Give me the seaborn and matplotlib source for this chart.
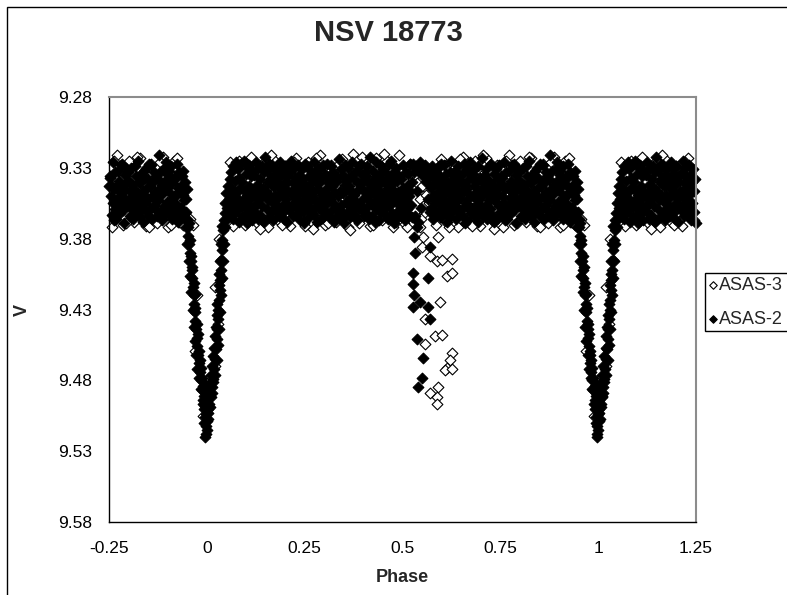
import matplotlib
matplotlib.use("Agg")
import matplotlib.pyplot as plt
from matplotlib.patches import Rectangle
import pandas as pd
import seaborn as sns

# ASAS-2 (filled diamonds): phases folded into 0..1, V magnitudes
asas2_band_phase = [
    0.046, 0.047, 0.049, 0.050, 0.052, 0.053, 0.055, 0.056, 0.058, 0.059,
    0.061, 0.063, 0.064, 0.066, 0.067, 0.069, 0.070, 0.072, 0.073, 0.075,
    0.076, 0.077, 0.079, 0.080, 0.082, 0.083, 0.085, 0.086, 0.088, 0.089,
    0.091, 0.093, 0.094, 0.096, 0.097, 0.099, 0.100, 0.102, 0.103, 0.105,
    0.106, 0.107, 0.109, 0.110, 0.112, 0.113, 0.115, 0.116, 0.118, 0.119,
    0.121, 0.123, 0.124, 0.126, 0.127, 0.129, 0.130, 0.132, 0.133, 0.135,
    0.136, 0.137, 0.139, 0.140, 0.142, 0.143, 0.145, 0.146, 0.148, 0.149,
    0.151, 0.153, 0.154, 0.156, 0.157, 0.159, 0.160, 0.162, 0.163, 0.165,
    0.166, 0.167, 0.169, 0.170, 0.172, 0.173, 0.175, 0.176, 0.178, 0.179,
    0.181, 0.183, 0.184, 0.186, 0.187, 0.189, 0.190, 0.192, 0.193, 0.195,
    0.196, 0.197, 0.199, 0.200, 0.202, 0.203, 0.205, 0.206, 0.208, 0.209,
    0.211, 0.213, 0.214, 0.216, 0.217, 0.219, 0.220, 0.222, 0.223, 0.225,
    0.226, 0.227, 0.229, 0.230, 0.232, 0.233, 0.235, 0.236, 0.238, 0.239,
    0.241, 0.243, 0.244, 0.246, 0.247, 0.249, 0.250, 0.252, 0.253, 0.255,
    0.256, 0.257, 0.259, 0.260, 0.262, 0.263, 0.265, 0.266, 0.268, 0.269,
    0.271, 0.273, 0.274, 0.276, 0.277, 0.279, 0.280, 0.282, 0.283, 0.285,
    0.286, 0.287, 0.289, 0.290, 0.292, 0.293, 0.295, 0.296, 0.298, 0.299,
    0.301, 0.303, 0.304, 0.306, 0.307, 0.309, 0.310, 0.312, 0.313, 0.315,
    0.316, 0.317, 0.319, 0.320, 0.322, 0.323, 0.325, 0.326, 0.328, 0.329,
    0.331, 0.333, 0.334, 0.336, 0.337, 0.339, 0.340, 0.342, 0.343, 0.345,
    0.346, 0.347, 0.349, 0.350, 0.352, 0.353, 0.355, 0.356, 0.358, 0.359,
    0.361, 0.363, 0.364, 0.366, 0.367, 0.369, 0.370, 0.372, 0.373, 0.375,
    0.376, 0.377, 0.379, 0.380, 0.382, 0.383, 0.385, 0.386, 0.388, 0.389,
    0.391, 0.393, 0.394, 0.396, 0.397, 0.399, 0.400, 0.402, 0.403, 0.405,
    0.406, 0.407, 0.409, 0.410, 0.412, 0.413, 0.415, 0.416, 0.418, 0.419,
    0.421, 0.423, 0.424, 0.426, 0.427, 0.429, 0.430, 0.432, 0.433, 0.435,
    0.436, 0.437, 0.439, 0.440, 0.442, 0.443, 0.445, 0.446, 0.448, 0.449,
    0.451, 0.453, 0.454, 0.456, 0.457, 0.459, 0.460, 0.462, 0.463, 0.465,
    0.466, 0.467, 0.469, 0.470, 0.472, 0.473, 0.475, 0.476, 0.478, 0.479,
    0.481, 0.483, 0.484, 0.486, 0.487, 0.489, 0.490, 0.492, 0.493, 0.495,
    0.496, 0.497, 0.499, 0.500, 0.502, 0.503, 0.505, 0.506, 0.508, 0.509,
    0.511, 0.513, 0.514, 0.516, 0.517, 0.519, 0.520, 0.522, 0.523, 0.525,
    0.526, 0.529, 0.532, 0.535, 0.538, 0.540,
    0.542, 0.545, 0.548, 0.551, 0.554,
    0.557, 0.560, 0.563, 0.566, 0.569, 0.571,
    0.573, 0.574, 0.576, 0.577, 0.579, 0.580, 0.582, 0.583, 0.585, 0.586,
    0.588, 0.590, 0.591, 0.593, 0.594, 0.596, 0.597, 0.599, 0.600, 0.602,
    0.603, 0.604, 0.606, 0.607, 0.609, 0.610, 0.612, 0.613, 0.615, 0.616,
    0.618, 0.620, 0.621, 0.623, 0.624, 0.626, 0.627, 0.629, 0.630, 0.632,
    0.633, 0.634, 0.636, 0.637, 0.639, 0.640, 0.642, 0.643, 0.645, 0.646,
    0.648, 0.650, 0.651, 0.653, 0.654, 0.656, 0.657, 0.659, 0.660, 0.662,
    0.663, 0.664, 0.666, 0.667, 0.669, 0.670, 0.672, 0.673, 0.675, 0.676,
    0.678, 0.680, 0.681, 0.683, 0.684, 0.686, 0.687, 0.689, 0.690, 0.692,
    0.693, 0.694, 0.696, 0.697, 0.699, 0.700, 0.702, 0.703, 0.705, 0.706,
    0.708, 0.710, 0.711, 0.713, 0.714, 0.716, 0.717, 0.719, 0.720, 0.722,
    0.723, 0.724, 0.726, 0.727, 0.729, 0.730, 0.732, 0.733, 0.735, 0.736,
    0.738, 0.740, 0.741, 0.743, 0.744, 0.746, 0.747, 0.749, 0.750, 0.752,
    0.753, 0.754, 0.756, 0.757, 0.759, 0.760, 0.762, 0.763, 0.765, 0.766,
    0.768, 0.770, 0.771, 0.773, 0.774, 0.776, 0.777, 0.779, 0.780, 0.782,
    0.783, 0.784, 0.786, 0.787, 0.789, 0.790, 0.792, 0.793, 0.795, 0.796,
    0.798, 0.800, 0.801, 0.803, 0.804, 0.806, 0.807, 0.809, 0.810, 0.812,
    0.813, 0.814, 0.816, 0.817, 0.819, 0.820, 0.822, 0.823, 0.825, 0.826,
    0.828, 0.830, 0.831, 0.833, 0.834, 0.836, 0.837, 0.839, 0.840, 0.842,
    0.843, 0.844, 0.846, 0.847, 0.849, 0.850, 0.852, 0.853, 0.855, 0.856,
    0.858, 0.860, 0.861, 0.863, 0.864, 0.866, 0.867, 0.869, 0.870, 0.872,
    0.873, 0.874, 0.876, 0.877, 0.879, 0.880, 0.882, 0.883, 0.885, 0.886,
    0.888, 0.890, 0.891, 0.893, 0.894, 0.896, 0.897, 0.899, 0.900, 0.902,
    0.903, 0.904, 0.906, 0.907, 0.909, 0.910, 0.912, 0.913, 0.915, 0.916,
    0.918, 0.920, 0.921, 0.923, 0.924, 0.926, 0.927, 0.929, 0.930, 0.932,
    0.933, 0.934, 0.936, 0.937, 0.939, 0.940, 0.942, 0.943, 0.945, 0.946,
    0.947, 0.948, 0.949, 0.950,
]
asas2_band_mag = [
    9.362, 9.355, 9.367, 9.348, 9.358, 9.343, 9.364, 9.352, 9.338, 9.360,
    9.333, 9.356, 9.345, 9.366, 9.329, 9.350, 9.362, 9.339, 9.354, 9.326,
    9.347, 9.360, 9.331, 9.352, 9.368, 9.337, 9.344, 9.357, 9.327, 9.364,
    9.340, 9.353, 9.325, 9.365, 9.346, 9.334, 9.359, 9.349, 9.369, 9.330,
    9.356, 9.328, 9.343, 9.362, 9.336, 9.351, 9.367, 9.332, 9.347, 9.358,
    9.335, 9.349, 9.361, 9.326, 9.355, 9.342, 9.366, 9.330, 9.352, 9.345,
    9.363, 9.338, 9.350, 9.329, 9.357, 9.344, 9.333, 9.368, 9.348, 9.322,
    9.346, 9.359, 9.332, 9.353, 9.340, 9.365, 9.327, 9.350, 9.337, 9.361,
    9.328, 9.354, 9.343, 9.367, 9.335, 9.349, 9.360, 9.331, 9.356, 9.341,
    9.351, 9.337, 9.364, 9.326, 9.345, 9.358, 9.334, 9.362, 9.348, 9.330,
    9.342, 9.366, 9.329, 9.355, 9.339, 9.352, 9.368, 9.336, 9.346, 9.358,
    9.360, 9.333, 9.347, 9.325, 9.357, 9.341, 9.364, 9.350, 9.330, 9.354,
    9.337, 9.352, 9.363, 9.344, 9.328, 9.359, 9.335, 9.348, 9.367, 9.340,
    9.355, 9.331, 9.346, 9.361, 9.338, 9.369, 9.351, 9.327, 9.343, 9.357,
    9.329, 9.349, 9.358, 9.336, 9.365, 9.344, 9.332, 9.353, 9.340, 9.362,
    9.347, 9.363, 9.326, 9.352, 9.339, 9.357, 9.334, 9.368, 9.345, 9.331,
    9.358, 9.341, 9.354, 9.330, 9.366, 9.337, 9.349, 9.361, 9.328, 9.351,
    9.334, 9.356, 9.345, 9.362, 9.327, 9.350, 9.340, 9.365, 9.353, 9.338,
    9.352, 9.329, 9.360, 9.343, 9.355, 9.333, 9.368, 9.347, 9.336, 9.358,
    9.340, 9.364, 9.337, 9.350, 9.324, 9.359, 9.346, 9.331, 9.356, 9.366,
    9.361, 9.335, 9.348, 9.369, 9.342, 9.328, 9.354, 9.339, 9.362, 9.345,
    9.330, 9.357, 9.343, 9.351, 9.365, 9.336, 9.360, 9.326, 9.348, 9.353,
    9.349, 9.338, 9.363, 9.332, 9.355, 9.346, 9.367, 9.341, 9.358, 9.329,
    9.356, 9.327, 9.344, 9.360, 9.335, 9.352, 9.339, 9.364, 9.347, 9.333,
    9.336, 9.362, 9.350, 9.329, 9.357, 9.341, 9.366, 9.345, 9.322, 9.354,
    9.364, 9.345, 9.332, 9.356, 9.338, 9.368, 9.349, 9.326, 9.359, 9.342,
    9.343, 9.353, 9.367, 9.335, 9.361, 9.328, 9.347, 9.357, 9.339, 9.350,
    9.331, 9.359, 9.340, 9.363, 9.348, 9.354, 9.334, 9.366, 9.344, 9.327,
    9.357, 9.337, 9.351, 9.325, 9.345, 9.362, 9.341, 9.353, 9.369, 9.333,
    9.348, 9.366, 9.330, 9.355, 9.339, 9.347, 9.360, 9.336, 9.351, 9.363,
    9.338, 9.352, 9.361, 9.344, 9.328, 9.357, 9.349, 9.367, 9.333, 9.355,
    9.359, 9.342, 9.334, 9.363, 9.350, 9.327, 9.346, 9.356, 9.340, 9.365,
    9.327, 9.333, 9.364, 9.329, 9.346, 9.368,
    9.331, 9.326, 9.358, 9.335, 9.330,
    9.328, 9.340, 9.332, 9.352, 9.336, 9.361,
    9.344, 9.358, 9.329, 9.366, 9.350, 9.337, 9.355, 9.341, 9.362, 9.333,
    9.353, 9.330, 9.347, 9.360, 9.336, 9.365, 9.343, 9.327, 9.356, 9.349,
    9.339, 9.362, 9.352, 9.328, 9.345, 9.358, 9.334, 9.368, 9.341, 9.355,
    9.365, 9.347, 9.333, 9.357, 9.325, 9.350, 9.361, 9.338, 9.354, 9.343,
    9.332, 9.356, 9.344, 9.366, 9.339, 9.353, 9.329, 9.360, 9.348, 9.336,
    9.351, 9.340, 9.363, 9.334, 9.358, 9.327, 9.346, 9.369, 9.342, 9.355,
    9.345, 9.367, 9.331, 9.352, 9.338, 9.359, 9.349, 9.326, 9.362, 9.335,
    9.358, 9.334, 9.350, 9.343, 9.365, 9.330, 9.356, 9.340, 9.347, 9.368,
    9.329, 9.353, 9.361, 9.337, 9.346, 9.357, 9.323, 9.350, 9.364, 9.341,
    9.362, 9.344, 9.335, 9.356, 9.331, 9.366, 9.348, 9.339, 9.353, 9.358,
    9.340, 9.359, 9.347, 9.327, 9.363, 9.342, 9.352, 9.334, 9.368, 9.345,
    9.354, 9.331, 9.366, 9.349, 9.338, 9.357, 9.328, 9.361, 9.343, 9.336,
    9.337, 9.350, 9.342, 9.363, 9.326, 9.355, 9.345, 9.367, 9.333, 9.359,
    9.366, 9.343, 9.357, 9.332, 9.351, 9.339, 9.362, 9.347, 9.328, 9.354,
    9.348, 9.327, 9.360, 9.344, 9.369, 9.335, 9.352, 9.341, 9.357, 9.331,
    9.333, 9.355, 9.339, 9.364, 9.346, 9.358, 9.330, 9.350, 9.342, 9.366,
    9.359, 9.345, 9.329, 9.353, 9.336, 9.362, 9.348, 9.325, 9.356, 9.340,
    9.341, 9.364, 9.351, 9.334, 9.358, 9.346, 9.368, 9.332, 9.349, 9.337,
    9.355, 9.330, 9.344, 9.361, 9.338, 9.352, 9.327, 9.365, 9.343, 9.359,
    9.328, 9.350, 9.366, 9.340, 9.356, 9.333, 9.347, 9.360, 9.336, 9.353,
    9.364, 9.338, 9.353, 9.321, 9.345, 9.361, 9.332, 9.349, 9.367, 9.342,
    9.346, 9.357, 9.331, 9.363, 9.339, 9.326, 9.354, 9.344, 9.360, 9.335,
    9.332, 9.362, 9.348, 9.355, 9.329, 9.366, 9.341, 9.351, 9.337, 9.358,
    9.350, 9.337, 9.363, 9.327, 9.356, 9.344, 9.368, 9.333, 9.347, 9.360,
    9.343, 9.358, 9.336, 9.365, 9.349, 9.332, 9.353, 9.362, 9.340, 9.367,
    9.352, 9.361, 9.345, 9.366,
]
asas2_eclipse_phase = [
    0.948, 0.951, 0.953, 0.955, 0.957, 0.959, 0.961, 0.962, 0.964, 0.966,
    0.968, 0.969, 0.971, 0.973, 0.974, 0.976, 0.978, 0.980, 0.982, 0.985,
    0.988, 0.991, 0.993, 0.995, 0.997, 0.998,
    0.954, 0.957, 0.960, 0.963, 0.966, 0.969, 0.971, 0.974, 0.977, 0.979,
    0.982, 0.984, 0.988, 0.991, 0.994, 0.996, 0.999,
    0.946, 0.950, 0.954, 0.957, 0.960, 0.964, 0.967, 0.970, 0.973, 0.976,
    0.044, 0.042, 0.040, 0.039, 0.037, 0.036, 0.034, 0.033, 0.031, 0.029,
    0.028, 0.026, 0.025, 0.023, 0.021, 0.018, 0.015, 0.012, 0.009, 0.006,
    0.003, 0.001,
    0.039, 0.036, 0.034, 0.032, 0.030, 0.027, 0.025, 0.023, 0.021, 0.019,
    0.016, 0.013, 0.010, 0.007, 0.004, 0.001, 0.998, 0.995, 0.002,
    0.047, 0.044, 0.041, 0.039, 0.036, 0.033, 0.030, 0.028, 0.025, 0.021,
    0.985, 0.990, 0.013, 0.008, 0.994, 0.004, 0.016, 0.981, 0.000, 0.996,
    0.010,
]
asas2_eclipse_mag = [
    9.366, 9.372, 9.378, 9.384, 9.390, 9.396, 9.402, 9.408, 9.414, 9.420,
    9.426, 9.432, 9.438, 9.444, 9.450, 9.456, 9.462, 9.468, 9.474, 9.480,
    9.487, 9.494, 9.500, 9.506, 9.512, 9.518,
    9.369, 9.381, 9.392, 9.400, 9.411, 9.419, 9.429, 9.440, 9.447, 9.459,
    9.466, 9.471, 9.478, 9.484, 9.491, 9.498, 9.504,
    9.372, 9.384, 9.396, 9.406, 9.418, 9.430, 9.442, 9.452, 9.462, 9.472,
    9.367, 9.374, 9.381, 9.388, 9.395, 9.402, 9.409, 9.416, 9.423, 9.430,
    9.437, 9.444, 9.451, 9.458, 9.465, 9.472, 9.479, 9.485, 9.491, 9.497,
    9.503, 9.509,
    9.371, 9.384, 9.396, 9.405, 9.413, 9.426, 9.434, 9.442, 9.449, 9.457,
    9.463, 9.470, 9.476, 9.482, 9.488, 9.494, 9.489, 9.483, 9.500,
    9.372, 9.384, 9.396, 9.408, 9.420, 9.432, 9.444, 9.455, 9.466, 9.476,
    9.486, 9.497, 9.489, 9.499, 9.510, 9.507, 9.481, 9.478, 9.515, 9.520,
    9.492,
]
asas2_dip_phase = [0.532, 0.528, 0.528, 0.529, 0.528, 0.566, 0.566, 0.570,
                   0.536, 0.553, 0.549, 0.540, 0.570, 0.545, 0.530, 0.538]
asas2_dip_mag = [9.390, 9.404, 9.412, 9.420, 9.428, 9.408, 9.428, 9.437,
                 9.451, 9.464, 9.478, 9.485, 9.386, 9.425, 9.379, 9.372]

# ASAS-3 (open diamonds)
asas3_band_phase = [
    0.059, 0.068, 0.083, 0.097, 0.112, 0.128, 0.141, 0.157, 0.170, 0.186,
    0.199, 0.213, 0.229, 0.244, 0.258, 0.272, 0.288, 0.303, 0.317, 0.331,
    0.345, 0.360, 0.374, 0.389, 0.404, 0.418, 0.433, 0.447, 0.461, 0.476,
    0.490, 0.505, 0.519, 0.585, 0.598, 0.612, 0.626, 0.641, 0.655, 0.670,
    0.684, 0.699, 0.713, 0.728, 0.742, 0.757, 0.771, 0.786, 0.800, 0.815,
    0.829, 0.844, 0.858, 0.873, 0.887, 0.902, 0.916, 0.930, 0.940,
    0.076, 0.105, 0.135, 0.164, 0.193, 0.222, 0.251, 0.280, 0.310, 0.339,
    0.367, 0.396, 0.425, 0.454, 0.483, 0.512, 0.593, 0.620, 0.648, 0.677,
    0.706, 0.735, 0.764, 0.793, 0.822, 0.851, 0.880, 0.909, 0.925,
    0.150, 0.350, 0.420, 0.470, 0.640, 0.700, 0.830, 0.910,
]
asas3_band_mag = [
    9.326, 9.371, 9.325, 9.370, 9.322, 9.369, 9.327, 9.372, 9.324, 9.368,
    9.329, 9.371, 9.323, 9.367, 9.326, 9.373, 9.321, 9.370, 9.328, 9.368,
    9.324, 9.372, 9.320, 9.369, 9.326, 9.371, 9.323, 9.367, 9.325, 9.372,
    9.321, 9.369, 9.327, 9.370, 9.324, 9.368, 9.327, 9.372, 9.322, 9.369,
    9.325, 9.371, 9.323, 9.367, 9.328, 9.372, 9.321, 9.370, 9.325, 9.368,
    9.323, 9.371, 9.327, 9.369, 9.322, 9.372, 9.325, 9.368, 9.370,
    9.366, 9.328, 9.373, 9.321, 9.370, 9.326, 9.371, 9.323, 9.369, 9.327,
    9.374, 9.322, 9.370, 9.320, 9.368, 9.372, 9.329, 9.372, 9.324, 9.371,
    9.321, 9.373, 9.325, 9.369, 9.322, 9.372, 9.326, 9.370, 9.323,
    9.345, 9.352, 9.338, 9.347, 9.350, 9.336, 9.356, 9.344,
]
asas3_dip_phase = [
    0.530, 0.536, 0.541, 0.545, 0.549, 0.552, 0.556, 0.560, 0.563, 0.567,
    0.534, 0.547,
    0.545, 0.553, 0.550, 0.591, 0.570, 0.588, 0.601, 0.627, 0.614, 0.627,
    0.596, 0.558, 0.583, 0.601, 0.558, 0.627, 0.621, 0.614, 0.609, 0.627,
    0.570, 0.591, 0.588, 0.588,
]
asas3_dip_mag = [
    9.336, 9.341, 9.347, 9.352, 9.343, 9.357, 9.362, 9.349, 9.339, 9.355,
    9.330, 9.366,
    9.372, 9.379, 9.386, 9.379, 9.392, 9.396, 9.395, 9.394, 9.406, 9.404,
    9.425, 9.437, 9.449, 9.448, 9.454, 9.461, 9.466, 9.471, 9.473, 9.472,
    9.489, 9.485, 9.492, 9.497,
]
asas3_eclipse_phase = [0.956, 0.964, 0.031, 0.021, 0.970, 0.020, 0.976,
                       0.028, 0.006, 0.990]
asas3_eclipse_mag = [9.366, 9.370, 9.380, 9.414, 9.459, 9.470, 9.420,
                     9.440, 9.478, 9.505]

x_ticks = [-0.25, 0, 0.25, 0.5, 0.75, 1, 1.25]
x_tick_labels = ["-0.25", "0", "0.25", "0.5", "0.75", "1", "1.25"]
y_ticks = [9.28, 9.33, 9.38, 9.43, 9.48, 9.53, 9.58]


def folded(phases, mags):
    """Phased light curve shown from -0.25 to 1.25 (repeat the wrapped ends)."""
    df = pd.DataFrame({"phase": phases, "mag": mags})
    before = df[df["phase"] >= 0.75].assign(phase=lambda d: d["phase"] - 1)
    after = df[df["phase"] < 0.25].assign(phase=lambda d: d["phase"] + 1)
    return pd.concat([df, before, after], ignore_index=True)


asas2 = folded(asas2_band_phase + asas2_eclipse_phase + asas2_dip_phase,
               asas2_band_mag + asas2_eclipse_mag + asas2_dip_mag)
asas3 = folded(asas3_band_phase + asas3_eclipse_phase + asas3_dip_phase,
               asas3_band_mag + asas3_eclipse_mag + asas3_dip_mag)

sns.set_style("white")
plt.rcParams["font.family"] = ["Liberation Sans", "DejaVu Sans"]

W, H = 787, 595
fig = plt.figure(figsize=(W / 100, H / 100), dpi=100)
ax = fig.add_axes([109 / W, (H - 522) / H, 587 / W, 425 / H])

marker_size = 30
sns.scatterplot(data=asas3, x="phase", y="mag", marker="D", s=marker_size,
                color="white", edgecolor="black", linewidth=0.8,
                label="ASAS-3", ax=ax, clip_on=False, legend=False)
sns.scatterplot(data=asas2, x="phase", y="mag", marker="D", s=marker_size,
                color="black", edgecolor="black", linewidth=0.8,
                label="ASAS-2", ax=ax, clip_on=False, legend=False)

ax.set_xlim(-0.25, 1.25)
ax.set_ylim(9.58, 9.28)
ax.set_xticks(x_ticks)
ax.set_xticklabels(x_tick_labels)
ax.set_yticks(y_ticks)
ax.set_yticklabels([f"{v:.2f}" for v in y_ticks])
ax.tick_params(direction="inout", length=9, width=1, colors="black",
               labelsize=12.5)
ax.tick_params(axis="y", pad=7.5)
ax.tick_params(axis="x", pad=9)

for side in ["left", "bottom"]:
    ax.spines[side].set_color("black")
    ax.spines[side].set_linewidth(1)
for side in ["top", "right"]:
    ax.spines[side].set_color("#8c8c8c")
    ax.spines[side].set_linewidth(1.5)

ax.set_xlabel("Phase", fontsize=13, fontweight="bold")
ax.set_ylabel("V", fontsize=13, fontweight="bold")
ax.xaxis.set_label_coords(0.5, (522 - 569) / 425)
ax.yaxis.set_label_coords((31 - 109) / 587, 0.5)

fig.text(388 / W, 1 - 33 / H, "NSV 18773", fontsize=21, fontweight="bold",
         ha="center", va="center")

handles, labels = ax.get_legend_handles_labels()
leg = fig.legend(handles, labels, loc="upper left",
                 bbox_to_anchor=(705 / W, (H - 334) / H, 220 / W, 61 / H),
                 mode="expand", fontsize=13, frameon=True, fancybox=False,
                 framealpha=1, edgecolor="black", borderpad=0.2,
                 handlelength=0.5, handletextpad=0.1, labelspacing=0.95,
                 markerscale=0.7, borderaxespad=0)
leg.get_frame().set_linewidth(1)

# outer chart-area border, running off the right and bottom edges
fig.add_artist(Rectangle((7 / W, -0.5), 2, 1.5 - 7 / H, transform=fig.transFigure,
                         fill=False, edgecolor="black", linewidth=1))

fig.savefig("out.png", dpi=100)
plt.close(fig)
